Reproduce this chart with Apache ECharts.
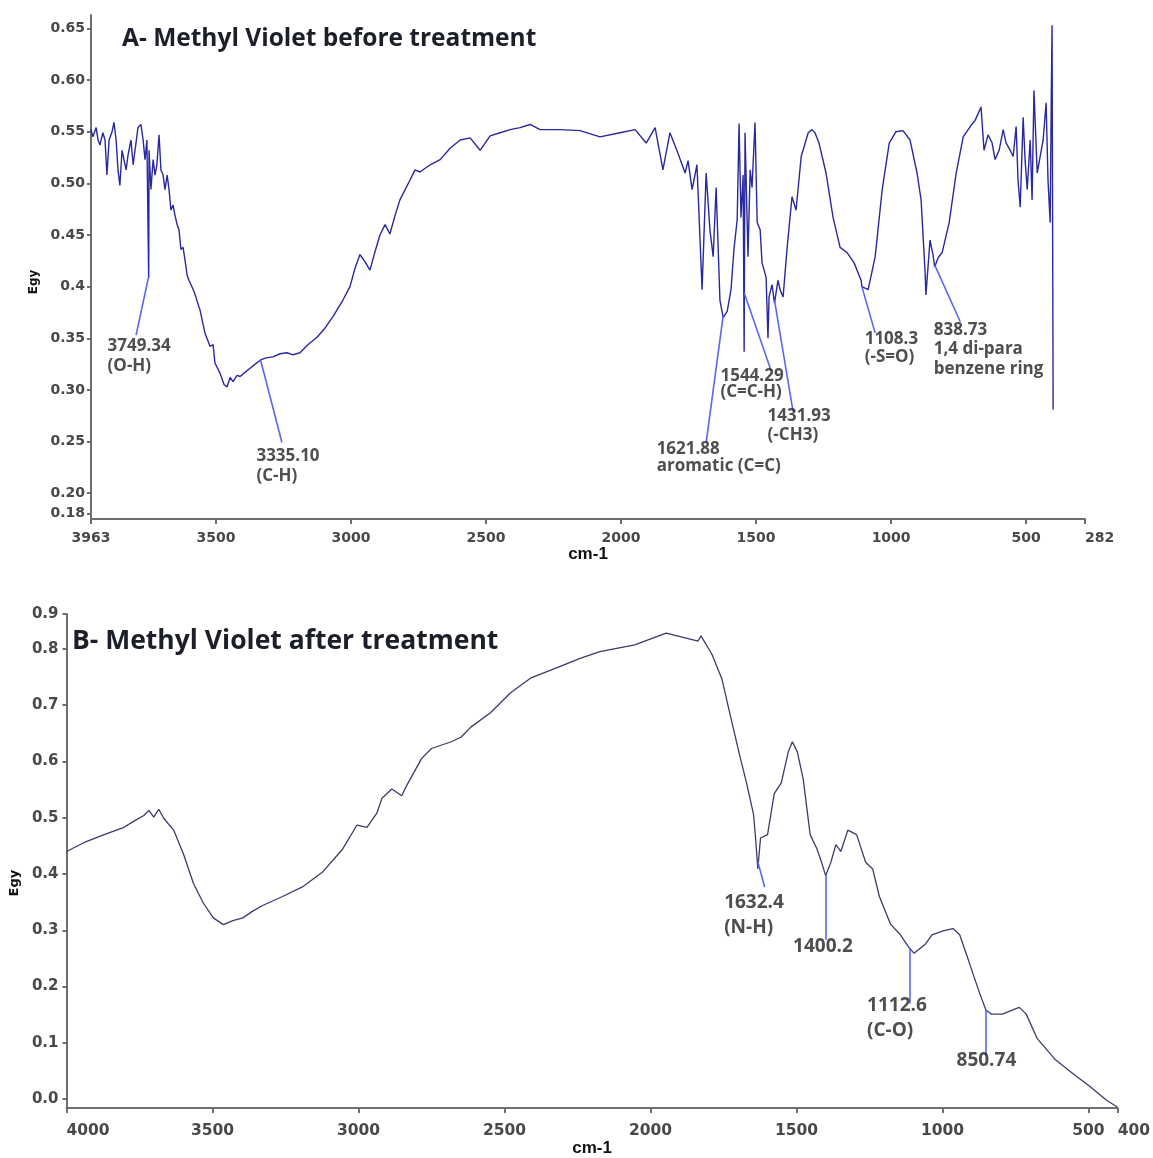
<!DOCTYPE html>
<html>
<head>
<meta charset="utf-8">
<title>Methyl Violet FTIR spectra</title>
<script src="https://cdn.jsdelivr.net/npm/echarts@6/dist/echarts.min.js"></script>
<style>
  html, body { margin: 0; padding: 0; background: #ffffff; }
  #chart { width: 1153px; height: 1158px; }
</style>
</head>
<body>
<div id="chart"></div>
<script>
// ---------- Spectrum A: methyl violet before treatment ----------
const wavenumbersA = [
  3963, 3956, 3944, 3937, 3930, 3919, 3911, 3904, 3896, 3885,
  3878, 3870, 3863, 3856, 3848, 3841, 3833, 3826, 3815, 3807,
  3800, 3789, 3778, 3770, 3763, 3756, 3749.34, 3748, 3741, 3733,
  3726, 3719, 3711, 3704, 3696, 3689, 3681, 3674, 3667, 3659,
  3652, 3644, 3637, 3630, 3622, 3615, 3607, 3600, 3593, 3581,
  3559, 3541, 3522, 3511, 3504, 3485, 3470, 3459, 3448, 3437,
  3422, 3411, 3393, 3374, 3355, 3335.10, 3315, 3289, 3263, 3237,
  3215, 3189, 3159, 3126, 3096, 3067, 3030, 3004, 2985, 2967,
  2948, 2930, 2911, 2893, 2874, 2856, 2837, 2819, 2782, 2763,
  2745, 2707, 2670, 2633, 2596, 2559, 2522, 2485, 2448, 2411,
  2374, 2337, 2300, 2226, 2152, 2078, 2004, 1948, 1907, 1874,
  1845, 1819, 1789, 1763, 1752, 1737, 1719, 1700, 1685, 1671,
  1659, 1648, 1634, 1621.88, 1607, 1593, 1582, 1570, 1563, 1556,
  1548, 1544.29, 1541, 1530, 1522, 1515, 1504, 1496, 1485, 1478,
  1463, 1456, 1452, 1441, 1431.93, 1419, 1411, 1400, 1385, 1367,
  1352, 1333, 1307, 1293, 1282, 1267, 1241, 1215, 1189, 1163,
  1137, 1111, 1108.3, 1085, 1059, 1033, 1007, 982, 956, 930,
  904, 889, 874, 871, 856, 845, 838.73, 826, 811, 785,
  759, 733, 707, 689, 667, 656, 641, 626, 615, 600,
  585, 574, 559, 548, 537, 530, 522, 511, 504, 496,
  485, 478, 471, 459, 448, 437, 426, 419, 411, 407,
  404, 400
];
const absorbanceA = [
  0.552, 0.545, 0.554, 0.542, 0.537, 0.549, 0.542, 0.508, 0.542, 0.550,
  0.559, 0.542, 0.513, 0.498, 0.532, 0.523, 0.513, 0.527, 0.542, 0.518,
  0.532, 0.554, 0.557, 0.542, 0.523, 0.542, 0.408, 0.532, 0.494, 0.523,
  0.508, 0.518, 0.547, 0.513, 0.508, 0.494, 0.508, 0.494, 0.474, 0.479,
  0.469, 0.460, 0.455, 0.436, 0.438, 0.426, 0.411, 0.406, 0.402, 0.395,
  0.377, 0.355, 0.342, 0.344, 0.326, 0.316, 0.305, 0.303, 0.312, 0.308,
  0.314, 0.313, 0.317, 0.321, 0.325, 0.329, 0.331, 0.332, 0.335, 0.336,
  0.334, 0.336, 0.344, 0.351, 0.360, 0.371, 0.387, 0.400, 0.418, 0.431,
  0.424, 0.416, 0.434, 0.450, 0.460, 0.451, 0.469, 0.484, 0.503, 0.513,
  0.511, 0.518, 0.523, 0.534, 0.542, 0.544, 0.532, 0.546, 0.549, 0.552,
  0.554, 0.557, 0.552, 0.552, 0.551, 0.545, 0.549, 0.552, 0.539, 0.554,
  0.513, 0.549, 0.529, 0.510, 0.522, 0.494, 0.518, 0.397, 0.510, 0.455,
  0.429, 0.496, 0.387, 0.370, 0.376, 0.397, 0.436, 0.465, 0.558, 0.467,
  0.508, 0.337, 0.549, 0.429, 0.513, 0.496, 0.559, 0.462, 0.455, 0.423,
  0.409, 0.350, 0.390, 0.402, 0.384, 0.406, 0.397, 0.390, 0.438, 0.487,
  0.474, 0.526, 0.549, 0.552, 0.549, 0.539, 0.510, 0.467, 0.438, 0.433,
  0.423, 0.406, 0.400, 0.397, 0.429, 0.494, 0.539, 0.550, 0.551, 0.542,
  0.510, 0.484, 0.413, 0.392, 0.445, 0.431, 0.419, 0.428, 0.433, 0.462,
  0.510, 0.545, 0.555, 0.561, 0.574, 0.532, 0.547, 0.539, 0.523, 0.532,
  0.552, 0.539, 0.532, 0.526, 0.555, 0.503, 0.477, 0.564, 0.523, 0.494,
  0.542, 0.484, 0.590, 0.510, 0.526, 0.542, 0.578, 0.503, 0.462, 0.581,
  0.653, 0.281
];

// ---------- Spectrum B: methyl violet after treatment ----------
const wavenumbersB = [
  4000, 3939, 3871, 3803, 3769, 3735, 3718, 3701, 3684, 3667,
  3633, 3599, 3565, 3531, 3497, 3463, 3430, 3396, 3362, 3328,
  3260, 3192, 3124, 3056, 3005, 2971, 2937, 2920, 2886, 2852,
  2835, 2784, 2750, 2682, 2649, 2615, 2547, 2479, 2411, 2309,
  2241, 2173, 2054, 1946, 1837, 1827, 1789, 1755, 1728, 1694,
  1671, 1647, 1640, 1632.4, 1623, 1599, 1576, 1552, 1528, 1514,
  1497, 1477, 1453, 1430, 1414, 1400.2, 1382, 1365, 1348, 1324,
  1294, 1263, 1239, 1216, 1178, 1144, 1112.6, 1097, 1059, 1036,
  998, 964, 941, 917, 893, 869, 850.74, 832, 795, 761,
  737, 713, 676, 615, 557, 496, 438, 401
];
const absorbanceB = [
  0.440, 0.456, 0.470, 0.483, 0.494, 0.504, 0.513, 0.501, 0.515, 0.499,
  0.478, 0.435, 0.383, 0.348, 0.322, 0.310, 0.317, 0.322, 0.334, 0.344,
  0.360, 0.377, 0.403, 0.443, 0.487, 0.483, 0.508, 0.534, 0.551, 0.539,
  0.557, 0.605, 0.623, 0.635, 0.643, 0.661, 0.687, 0.722, 0.748, 0.769,
  0.783, 0.795, 0.807, 0.828, 0.814, 0.823, 0.790, 0.746, 0.685, 0.610,
  0.562, 0.506, 0.464, 0.409, 0.464, 0.470, 0.543, 0.562, 0.617, 0.635,
  0.617, 0.569, 0.470, 0.445, 0.421, 0.397, 0.421, 0.452, 0.440, 0.478,
  0.470, 0.421, 0.409, 0.360, 0.311, 0.292, 0.268, 0.259, 0.275, 0.292,
  0.299, 0.303, 0.292, 0.256, 0.219, 0.183, 0.158, 0.151, 0.151, 0.158,
  0.163, 0.151, 0.108, 0.071, 0.047, 0.023, -0.002, -0.014
];

// ---------- Peak assignments ----------
const peakTextA = ['3749.34', '3335.10', '1621.88', '1544.29', '1431.93', '1108.3', '838.73'];
const peakGroupA = ['(O-H)', '(C-H)', 'aromatic (C=C)', '(C=C-H)', '(-CH3)', '(-S=O)', '1,4 di-para\nbenzene ring'];
const leaderTopA = [0.410, 0.329, 0.372, 0.394, 0.387, 0.400, 0.421];
const leaderEndWnA = [3796, 3256, 1685, 1445, 1363, 1059, 744];
const leaderEndAbsA = [0.353, 0.249, 0.249, 0.319, 0.279, 0.355, 0.366];

const peakTextB = ['1632.4', '1400.2', '1112.6', '850.74'];
const peakGroupB = ['(N-H)', '', '(C-O)', ''];
const leaderTopB = [0.422, 0.400, 0.268, 0.158];
const leaderEndWnB = [1609, 1400.2, 1112.6, 850.74];
const leaderEndAbsB = [0.377, 0.283, 0.170, 0.078];

// ---------- Axis ticks ----------
const ticksXA = [3963, 3500, 3000, 2500, 2000, 1500, 1000, 500, 282];
const ticksYA = [0.18, 0.20, 0.25, 0.30, 0.35, 0.40, 0.45, 0.50, 0.55, 0.60, 0.65];
const ticksXB = [4000, 3500, 3000, 2500, 2000, 1500, 1000, 500, 400];
const ticksYB = [0.0, 0.1, 0.2, 0.3, 0.4, 0.5, 0.6, 0.7, 0.8, 0.862];
const tickTextYB = ['0.0', '0.1', '0.2', '0.3', '0.4', '0.5', '0.6', '0.7', '0.8', '0.9'];

// ---------- Styling ----------
const axisColor = '#6e6e6e';
const tickLabelColor = '#484848';
const leaderColor = '#5868ee';
const noteColor = '#222222';
const labelOffsetA = [[-28, 2], [-25, 4], [-49, -2], [-50, -2], [-25, -4], [-10, -2], [-26, -1]];
const lineHeightA = [19.5, 20, 17.5, 16.5, 19, 18, 19.5];
const labelOffsetB = [[-40, 4], [-32, -5], [-42, -10], [-29, -7]];

const zip = (xs, ys) => xs.map((x, i) => [x, ys[i]]);

function axisPair(gridIndex, cfg) {
  const x = {
    gridIndex, type: 'value', inverse: true, min: cfg.xMin, max: cfg.xMax,
    splitLine: { show: false },
    axisLine: { show: true, onZero: false, lineStyle: { color: axisColor, width: 2 } },
    axisTick: { show: true, customValues: cfg.ticksX, length: 5, lineStyle: { color: axisColor, width: 2 } },
    axisLabel: {
      customValues: cfg.ticksX, color: tickLabelColor, fontFamily: 'DejaVu Sans', fontWeight: 'bold',
      fontSize: cfg.xFont, margin: cfg.xMargin, alignMaxLabel: 'left', alignMinLabel: cfg.alignMin,
      formatter: v => String(v)
    },
    name: 'cm-1', nameLocation: 'middle', nameGap: cfg.xNameGap,
    nameTextStyle: { fontFamily: 'Liberation Sans', fontWeight: 'bold', fontSize: 17, color: '#111' }
  };
  const y = {
    gridIndex, type: 'value', min: cfg.yMin, max: cfg.yMax,
    splitLine: { show: false },
    axisLine: { show: true, onZero: false, lineStyle: { color: axisColor, width: 2 } },
    axisTick: { show: true, customValues: cfg.ticksY, length: 4, lineStyle: { color: axisColor, width: 2 } },
    axisLabel: {
      customValues: cfg.ticksY, color: tickLabelColor, fontFamily: 'DejaVu Sans', fontWeight: 'bold',
      fontSize: cfg.yFont, margin: cfg.yMargin, formatter: cfg.yFormat
    },
    name: 'Egy', nameLocation: 'middle', nameRotate: 90, nameGap: cfg.yNameGap,
    nameTextStyle: { fontFamily: 'DejaVu Sans', fontWeight: 'bold', fontSize: cfg.yNameFont, color: '#111',
      padding: cfg.yNamePad }
  };
  return [x, y];
}

const [xA, yA] = axisPair(0, {
  xMin: 282, xMax: 3963, ticksX: ticksXA, xFont: 14, xMargin: 12, alignMin: 'center', xNameGap: 26,
  yMin: 0.175, yMax: 0.663, ticksY: ticksYA, yFont: 14, yMargin: 6, yNameGap: 36, yNameFont: 12,
  yNamePad: [0, 30, 0, 0],
  yFormat: v => Math.abs(v - 0.4) < 1e-6 ? '0.4' : v.toFixed(2)
});
const [xB, yB] = axisPair(1, {
  xMin: 400, xMax: 4000, ticksX: ticksXB, xFont: 15.5, xMargin: 15, alignMin: 'left', xNameGap: 24,
  yMin: -0.016, yMax: 0.862, ticksY: ticksYB, yFont: 15, yMargin: 8, yNameGap: 40, yNameFont: 13,
  yNamePad: [0, 44, 0, 0],
  yFormat: v => tickTextYB[ticksYB.findIndex(t => Math.abs(t - v) < 1e-6)]
});

function leaders(axisIndex, wn, top, endWn, endAbs) {
  return {
    type: 'lines', coordinateSystem: 'cartesian2d', xAxisIndex: axisIndex, yAxisIndex: axisIndex,
    polyline: false, silent: true, z: 3,
    lineStyle: { color: leaderColor, width: 1.6, opacity: 1 },
    data: wn.map((w, i) => ({ coords: [[w, top[i]], [endWn[i], endAbs[i]]] }))
  };
}

function notes(axisIndex, endWn, endAbs, texts, groups, offsets, font, lineHeights) {
  return {
    type: 'scatter', xAxisIndex: axisIndex, yAxisIndex: axisIndex, symbolSize: 1, silent: true, z: 4,
    itemStyle: { color: 'transparent' },
    data: endWn.map((w, i) => ({
      value: [w, endAbs[i]],
      label: {
        show: true, position: offsets[i], align: 'left', verticalAlign: 'top',
        formatter: groups[i] ? texts[i] + '\n' + groups[i] : texts[i],
        fontFamily: 'Open Sans', fontWeight: 'bold', fontSize: font, color: noteColor,
        lineHeight: lineHeights ? lineHeights[i] : font + 6
      }
    }))
  };
}

const peakWnA = peakTextA.map(Number);
const peakWnB = peakTextB.map(Number);

const option = {
  animation: false,
  backgroundColor: '#ffffff',
  title: [
    { text: 'A- Methyl Violet before treatment', left: 122, top: 27, padding: 0,
      textStyle: { fontFamily: 'Open Sans', fontWeight: 'bold', fontSize: 24.5, color: '#1c1f2a' } },
    { text: 'B- Methyl Violet after treatment', left: 72, top: 628, padding: 0,
      textStyle: { fontFamily: 'Open Sans', fontWeight: 'bold', fontSize: 26.5, color: '#1c1f2a' } }
  ],
  grid: [
    { left: 91, right: 68, top: 15, height: 504 },
    { left: 62, right: 31, top: 614, height: 505 }
  ],
  xAxis: [xA, xB],
  yAxis: [yA, yB],
  series: [
    { type: 'line', xAxisIndex: 0, yAxisIndex: 0, data: zip(wavenumbersA, absorbanceA),
      showSymbol: false, lineStyle: { color: '#2828a0', width: 1.4 }, z: 2 },
    { type: 'line', xAxisIndex: 1, yAxisIndex: 1, data: zip(wavenumbersB, absorbanceB),
      showSymbol: false, lineStyle: { color: '#3b3b6b', width: 1.3 }, z: 2 },
    leaders(0, peakWnA, leaderTopA, leaderEndWnA, leaderEndAbsA),
    leaders(1, peakWnB, leaderTopB, leaderEndWnB, leaderEndAbsB),
    notes(0, leaderEndWnA, leaderEndAbsA, peakTextA, peakGroupA, labelOffsetA, 17, lineHeightA),
    notes(1, leaderEndWnB, leaderEndAbsB, peakTextB, peakGroupB, labelOffsetB, 19, null)
  ]
};

const chart = echarts.init(document.getElementById('chart'), null, { renderer: 'canvas' });
chart.setOption(option);
</script>
</body>
</html>
